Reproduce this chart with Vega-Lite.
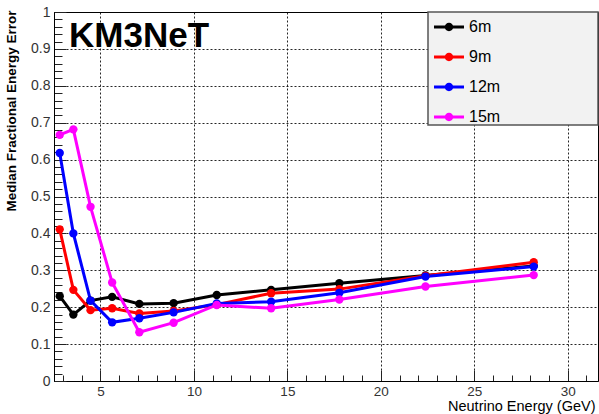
{
  "$schema": "https://vega.github.io/schema/vega-lite/v6.json",
  "width": 544,
  "height": 369,
  "autosize": {"type": "none"},
  "padding": {"left": 54, "top": 12, "right": 1, "bottom": 33},
  "background": "white",
  "title": {
    "text": "KM3NeT",
    "anchor": "start",
    "frame": "group",
    "orient": "top",
    "offset": -77,
    "dx": 15,
    "fontSize": 35,
    "font": "Liberation Sans",
    "fontWeight": "bold",
    "color": "black",
    "baseline": "alphabetic"
  },
  "data": {
    "values": [
      {"series": "6m", "energy": 2.818, "error": 0.230},
      {"series": "6m", "energy": 3.548, "error": 0.180},
      {"series": "6m", "energy": 4.467, "error": 0.218},
      {"series": "6m", "energy": 5.623, "error": 0.228},
      {"series": "6m", "energy": 7.079, "error": 0.209},
      {"series": "6m", "energy": 8.913, "error": 0.211},
      {"series": "6m", "energy": 11.22, "error": 0.233},
      {"series": "6m", "energy": 14.13, "error": 0.247},
      {"series": "6m", "energy": 17.78, "error": 0.265},
      {"series": "6m", "energy": 22.39, "error": 0.286},
      {"series": "6m", "energy": 28.18, "error": 0.312},
      {"series": "9m", "energy": 2.818, "error": 0.411},
      {"series": "9m", "energy": 3.548, "error": 0.247},
      {"series": "9m", "energy": 4.467, "error": 0.192},
      {"series": "9m", "energy": 5.623, "error": 0.197},
      {"series": "9m", "energy": 7.079, "error": 0.183},
      {"series": "9m", "energy": 8.913, "error": 0.190},
      {"series": "9m", "energy": 11.22, "error": 0.207},
      {"series": "9m", "energy": 14.13, "error": 0.238},
      {"series": "9m", "energy": 17.78, "error": 0.249},
      {"series": "9m", "energy": 22.39, "error": 0.285},
      {"series": "9m", "energy": 28.18, "error": 0.322},
      {"series": "12m", "energy": 2.818, "error": 0.618},
      {"series": "12m", "energy": 3.548, "error": 0.400},
      {"series": "12m", "energy": 4.467, "error": 0.218},
      {"series": "12m", "energy": 5.623, "error": 0.159},
      {"series": "12m", "energy": 7.079, "error": 0.170},
      {"series": "12m", "energy": 8.913, "error": 0.186},
      {"series": "12m", "energy": 11.22, "error": 0.210},
      {"series": "12m", "energy": 14.13, "error": 0.215},
      {"series": "12m", "energy": 17.78, "error": 0.239},
      {"series": "12m", "energy": 22.39, "error": 0.283},
      {"series": "12m", "energy": 28.18, "error": 0.310},
      {"series": "15m", "energy": 2.818, "error": 0.667},
      {"series": "15m", "energy": 3.548, "error": 0.682},
      {"series": "15m", "energy": 4.467, "error": 0.472},
      {"series": "15m", "energy": 5.623, "error": 0.267},
      {"series": "15m", "energy": 7.079, "error": 0.132},
      {"series": "15m", "energy": 8.913, "error": 0.158},
      {"series": "15m", "energy": 11.22, "error": 0.206},
      {"series": "15m", "energy": 14.13, "error": 0.197},
      {"series": "15m", "energy": 17.78, "error": 0.221},
      {"series": "15m", "energy": 22.39, "error": 0.256},
      {"series": "15m", "energy": 28.18, "error": 0.287}
    ]
  },
  "resolve": {"axis": {"x": "independent", "y": "independent"}},
  "layer": [
    {
      "mark": {"type": "point", "opacity": 0},
      "encoding": {
        "x": {
          "field": "energy", "type": "quantitative",
          "scale": {"domain": [2.512, 31.62], "nice": false, "zero": false},
          "axis": {
            "orient": "bottom",
            "values": [3,4,6,7,8,9,11,12,13,14,16,17,18,19,21,22,23,24,26,27,28,29,31],
            "labels": false, "grid": false, "domain": false, "title": null,
            "tickSize": -6, "tickColor": "#222", "tickWidth": 1
          }
        },
        "y": {
          "field": "error", "type": "quantitative",
          "scale": {"domain": [0, 1], "nice": false, "zero": false},
          "axis": {
            "orient": "left",
            "values": [0.02,0.04,0.06,0.08,0.12,0.14,0.16,0.18,0.22,0.24,0.26,0.28,0.32,0.34,0.36,0.38,0.42,0.44,0.46,0.48,0.52,0.54,0.56,0.58,0.62,0.64,0.66,0.68,0.72,0.74,0.76,0.78,0.82,0.84,0.86,0.88,0.92,0.94,0.96,0.98],
            "labels": false, "grid": false, "domain": false, "title": null,
            "tickSize": -8, "tickColor": "#222", "tickWidth": 1
          }
        }
      }
    },
    {
      "mark": {"type": "line", "strokeWidth": 3},
      "encoding": {
        "x": {
          "field": "energy", "type": "quantitative",
          "axis": {
            "orient": "bottom",
            "values": [5, 10, 15, 20, 25, 30],
            "format": "d",
            "grid": true, "gridColor": "black", "gridDash": [2, 2], "gridWidth": 1, "gridOpacity": 0.85,
            "tickSize": -11, "tickColor": "#222", "tickWidth": 1,
            "domain": true, "domainColor": "black",
            "labelPadding": 14, "labelFontSize": 13.5, "labelFont": "Liberation Sans", "labelColor": "#333",
            "title": "Neutrino Energy (GeV)",
            "titleFont": "Liberation Sans", "titleFontSize": 14.5, "titleFontWeight": "normal", "titleColor": "black",
            "titleX": 541, "titleY": 29, "titleAlign": "right", "titleBaseline": "alphabetic"
          }
        },
        "y": {
          "field": "error", "type": "quantitative",
          "axis": {
            "orient": "left",
            "values": [0, 0.1, 0.2, 0.3, 0.4, 0.5, 0.6, 0.7, 0.8, 0.9, 1],
            "format": ".1~f",
            "grid": true, "gridColor": "black", "gridDash": [2, 2], "gridWidth": 1, "gridOpacity": 0.85,
            "tickSize": -12, "tickColor": "#222", "tickWidth": 1,
            "domain": true, "domainColor": "black",
            "labelPadding": 16, "labelFontSize": 14, "labelFont": "Liberation Sans", "labelColor": "#333",
            "title": "Median Fractional Energy Error",
            "titleFont": "Liberation Sans", "titleFontSize": 13.5, "titleFontWeight": "bold", "titleColor": "black",
            "titleAngle": -90, "titleX": -39, "titleY": -2, "titleAlign": "right", "titleBaseline": "alphabetic"
          }
        },
        "color": {
          "field": "series", "type": "nominal",
          "scale": {"domain": ["6m", "9m", "12m", "15m"], "range": ["#000000", "#ff0000", "#0000ff", "#ff00ff"]},
          "legend": {
            "orient": "none",
            "legendX": 374,
            "legendY": 0,
            "title": null,
            "fillColor": "#f2f2f2",
            "strokeColor": "#555",
            "padding": 0,
            "symbolOffset": 6,
            "labelOffset": 5,
            "rowPadding": 7,
            "symbolType": "M-1,-0.1H1V0.1H-1Z M0.28,0A0.28,0.28 0 1 1 -0.28,0A0.28,0.28 0 1 1 0.28,0Z",
            "symbolSize": 900,
            "symbolStrokeWidth": 0,
            "labelFont": "Liberation Sans",
            "labelFontSize": 16,
            "labelColor": "black",
            "labelLimit": 300,
            "labelExpr": "datum.label + '                      \u200b'",
            "encode": {
              "legend": {"update": {"strokeWidth": {"value": 1.5}}},
              "symbols": {"update": {"fill": {"scale": "color", "field": "value"}, "strokeWidth": {"value": 0}, "opacity": {"value": 1}}}
            }
          }
        },
        "detail": {"field": "series"}
      }
    },
    {
      "mark": {"type": "circle", "size": 70, "opacity": 1},
      "encoding": {
        "x": {"field": "energy", "type": "quantitative", "axis": null},
        "y": {"field": "error", "type": "quantitative", "axis": null},
        "color": {"field": "series", "type": "nominal", "legend": null}
      }
    }
  ],
  "config": {
    "view": {"stroke": "black", "strokeWidth": 1}
  }
}
